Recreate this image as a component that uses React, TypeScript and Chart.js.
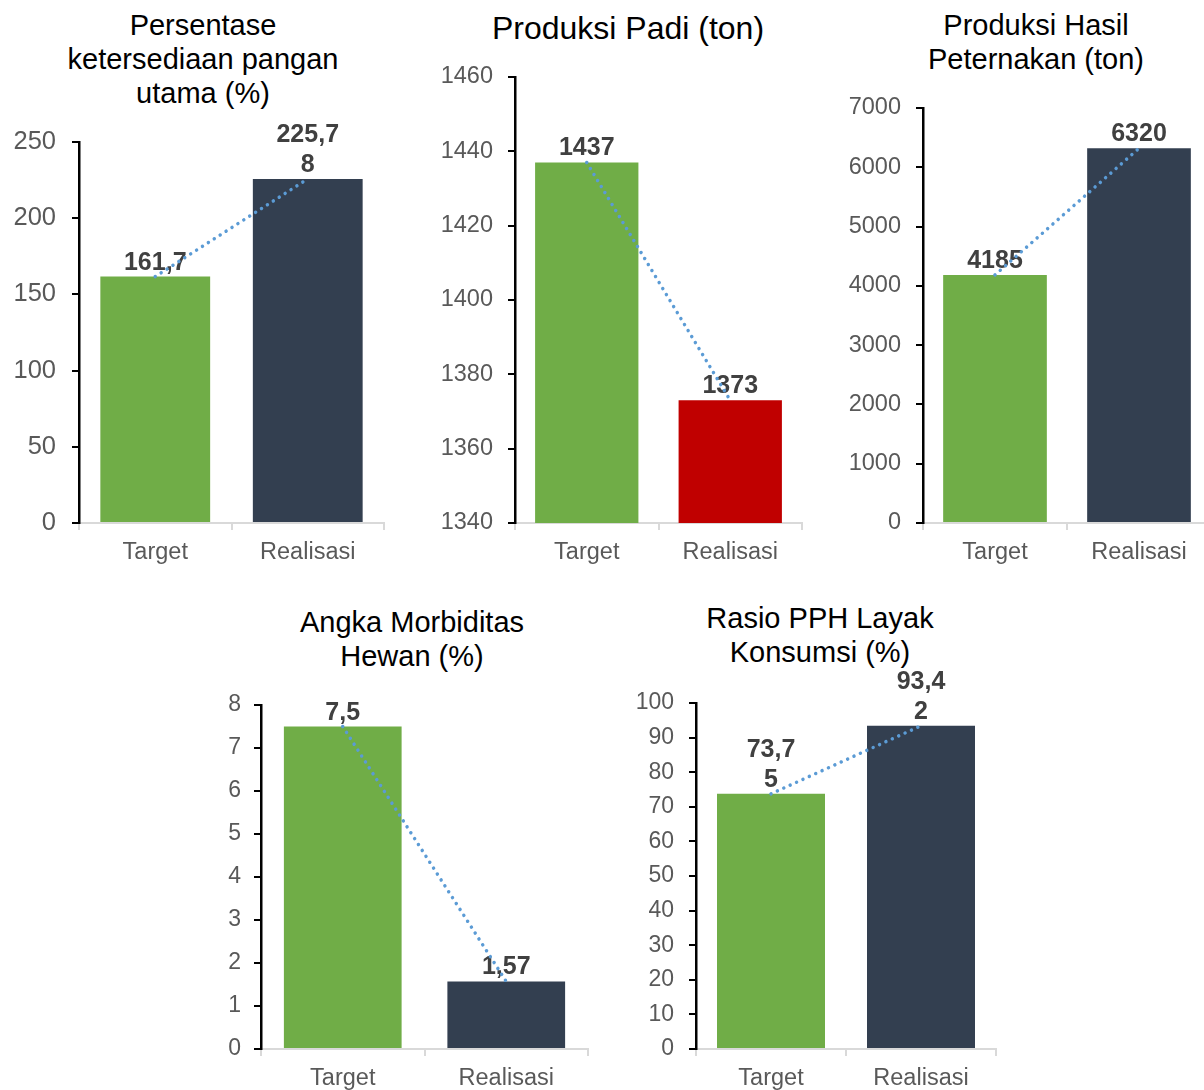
import React, { useEffect, useRef } from "react";
import { Chart, registerables } from "chart.js";

Chart.register(...registerables);

// ---------- data ----------
const categories = ["Target", "Realisasi"];

const ketersediaanValues = [161.7, 225.78];
const padiValues = [1437, 1373];
const peternakanValues = [4185, 6320];
const morbiditasValues = [7.5, 1.57];
const pphValues = [73.75, 93.42];

// axis [min, max, step]
const ketersediaanAxis = [0, 250, 50];
const padiAxis = [1340, 1460, 20];
const peternakanAxis = [0, 7000, 1000];
const morbiditasAxis = [0, 8, 1];
const pphAxis = [0, 100, 10];

const ketersediaanTitle = ["Persentase", "ketersediaan pangan", "utama (%)"];
const padiTitle = ["Produksi Padi (ton)"];
const peternakanTitle = ["Produksi Hasil", "Peternakan (ton)"];
const morbiditasTitle = ["Angka Morbiditas", "Hewan (%)"];
const pphTitle = ["Rasio PPH Layak", "Konsumsi (%)"];

// ---------- styles ----------
const FONT = '"Liberation Sans", Arial, Helvetica, sans-serif';
const GREEN = "#70AD47";
const NAVY = "#333F50";
const RED = "#C00000";
const LINE_BLUE = "#5B9BD5";

function formatValue(v: number): string {
  return String(v).replace(".", ",");
}

function wrapLabel(s: string, n: number): string[] {
  if (!n || s.length <= n) return [s];
  const out: string[] = [];
  for (let i = 0; i < s.length; i += n) out.push(s.slice(i, i + n));
  return out;
}

const labelPlugin = {
  id: "barLabels",
  afterDatasetDraw(chart: any, args: any, opts: any) {
    const ds = chart.data.datasets[args.index];
    if (ds.type !== "bar") return;
    const ctx = chart.ctx;
    ctx.save();
    ctx.font = `bold 25px ${FONT}`;
    ctx.fillStyle = "#404040";
    ctx.textAlign = "center";
    ctx.textBaseline = "alphabetic";
    args.meta.data.forEach((el: any, i: number) => {
      const lines = wrapLabel(formatValue(ds.data[i]), opts.wrap || 0);
      let y = el.y - 7;
      for (let k = lines.length - 1; k >= 0; k--) {
        ctx.fillText(lines[k], el.x, y);
        y -= 30;
      }
    });
    ctx.restore();
  },
};

type Cfg = {
  values: number[];
  axis: number[];
  colors: string[];
  axisX: number;
  topY: number;
  bottomY: number;
  rightX: number;
  yFont: number;
  yPad: number;
  wrap: number;
};

function ChartPanel({ cfg }: { cfg: Cfg }) {
  const ref = useRef<HTMLCanvasElement>(null);
  const yW = Math.min(80, cfg.axisX);
  const padTop = 50;
  const xH = 48;
  const padRight = 4;
  const left = cfg.axisX - yW;
  const top = cfg.topY - padTop;
  const width = cfg.rightX - left + padRight;
  const height = cfg.bottomY - top + xH;

  useEffect(() => {
    if (!ref.current) return;
    const chart = new Chart(ref.current, {
      type: "bar",
      data: {
        labels: categories,
        datasets: [
          {
            type: "line",
            data: cfg.values,
            borderColor: LINE_BLUE,
            borderWidth: 3.5,
            borderDash: [0.01, 7],
            borderCapStyle: "round",
            pointRadius: 0,
            fill: false,
            order: 0,
          } as any,
          {
            type: "bar",
            data: cfg.values,
            backgroundColor: cfg.colors,
            barPercentage: 0.72,
            categoryPercentage: 1,
            order: 1,
          } as any,
        ],
      },
      options: {
        responsive: false,
        animation: false,
        layout: { padding: { top: padTop, right: padRight, bottom: 0, left: 0 } },
        plugins: {
          legend: { display: false },
          tooltip: { enabled: false },
          title: { display: false },
          barLabels: { wrap: cfg.wrap },
        } as any,
        scales: {
          x: {
            grid: {
              display: true,
              drawOnChartArea: false,
              drawTicks: true,
              tickLength: 7,
              color: "#D9D9D9",
              lineWidth: 2,
              offset: true,
            },
            border: { display: true, color: "#D9D9D9", width: 2 },
            ticks: {
              color: "#595959",
              font: { family: FONT, size: 23.5 },
              padding: 8,
            },
            afterFit: (s: any) => {
              s.height = xH;
            },
          },
          y: {
            min: cfg.axis[0],
            max: cfg.axis[1],
            ticks: {
              stepSize: cfg.axis[2],
              color: "#595959",
              font: { family: FONT, size: cfg.yFont },
              padding: cfg.yPad,
              callback: (v: any) => String(v),
            },
            grid: {
              display: true,
              drawOnChartArea: false,
              drawTicks: true,
              tickLength: 7,
              color: "#000000",
              lineWidth: 2,
            },
            border: { display: true, color: "#000000", width: 2.5 },
            afterFit: (s: any) => {
              s.width = yW;
            },
          },
        },
      },
      plugins: [labelPlugin as any],
    } as any);
    return () => chart.destroy();
  }, []);

  return (
    <canvas
      ref={ref}
      width={width}
      height={height}
      style={{ position: "absolute", left, top, width, height }}
    />
  );
}

function Title({ lines, cx, top, size, lh }: { lines: string[]; cx: number; top: number; size: number; lh: number }) {
  return (
    <div
      style={{
        position: "absolute",
        left: cx - 200,
        top,
        width: 400,
        textAlign: "center",
        fontFamily: FONT,
        fontSize: size,
        lineHeight: `${lh}px`,
        color: "#000000",
        whiteSpace: "pre",
      }}
    >
      {lines.join("\n")}
    </div>
  );
}

export default function App() {
  return (
    <div
      style={{
        position: "absolute",
        left: 0,
        top: 0,
        width: 1204,
        height: 1090,
        overflow: "hidden",
        background: "#ffffff",
      }}
    >
      <Title lines={ketersediaanTitle} cx={203} top={8} size={29} lh={34} />
      <Title lines={padiTitle} cx={628} top={9} size={32} lh={38} />
      <Title lines={peternakanTitle} cx={1036} top={8} size={29} lh={34} />
      <Title lines={morbiditasTitle} cx={412} top={605} size={29} lh={34} />
      <Title lines={pphTitle} cx={820} top={601} size={29} lh={34} />

      <ChartPanel
        cfg={{
          values: ketersediaanValues,
          axis: ketersediaanAxis,
          colors: [GREEN, NAVY],
          axisX: 79,
          topY: 142,
          bottomY: 523,
          rightX: 384,
          yFont: 25.5,
          yPad: 16,
          wrap: 5,
        }}
      />
      <ChartPanel
        cfg={{
          values: padiValues,
          axis: padiAxis,
          colors: [GREEN, RED],
          axisX: 515,
          topY: 77,
          bottomY: 523,
          rightX: 802,
          yFont: 23.5,
          yPad: 15,
          wrap: 0,
        }}
      />
      <ChartPanel
        cfg={{
          values: peternakanValues,
          axis: peternakanAxis,
          colors: [GREEN, NAVY],
          axisX: 923,
          topY: 108,
          bottomY: 523,
          rightX: 1211,
          yFont: 23.5,
          yPad: 15,
          wrap: 0,
        }}
      />
      <ChartPanel
        cfg={{
          values: morbiditasValues,
          axis: morbiditasAxis,
          colors: [GREEN, NAVY],
          axisX: 261,
          topY: 705,
          bottomY: 1049,
          rightX: 588,
          yFont: 23,
          yPad: 13,
          wrap: 0,
        }}
      />
      <ChartPanel
        cfg={{
          values: pphValues,
          axis: pphAxis,
          colors: [GREEN, NAVY],
          axisX: 696,
          topY: 703,
          bottomY: 1049,
          rightX: 996,
          yFont: 23,
          yPad: 15,
          wrap: 4,
        }}
      />
    </div>
  );
}
